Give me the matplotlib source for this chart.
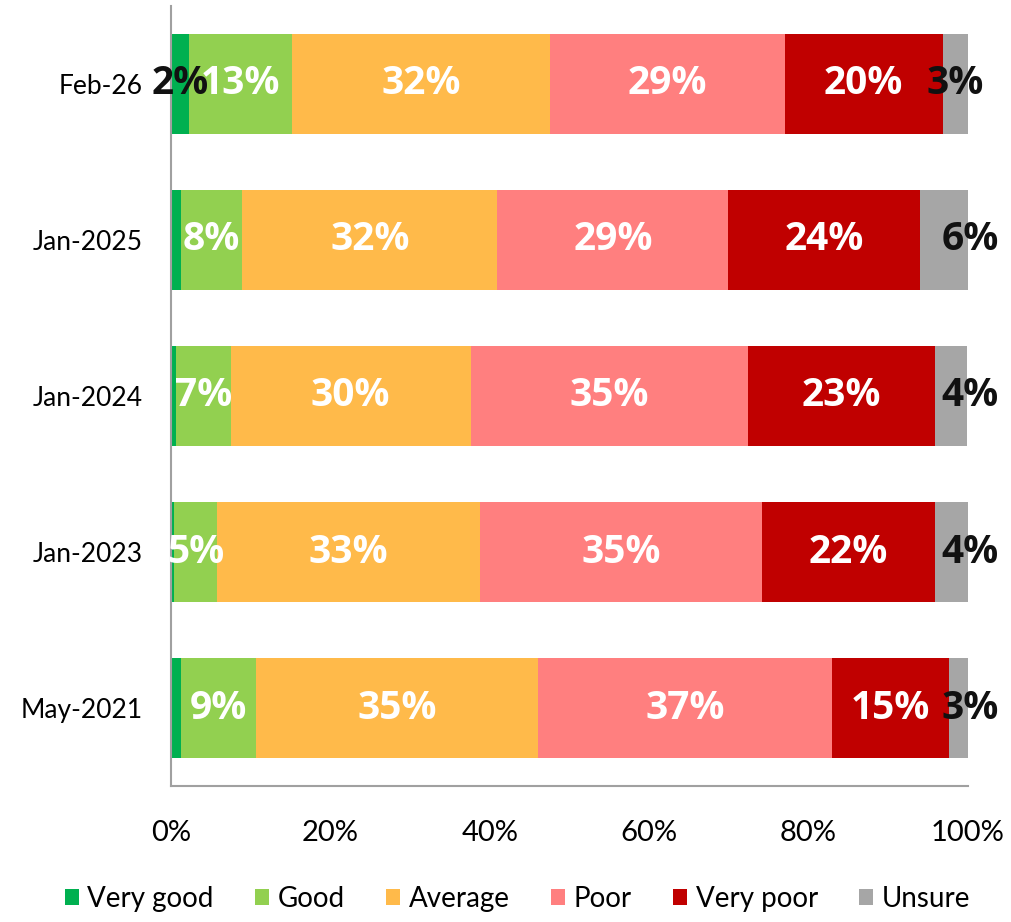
import numpy as np
import matplotlib
matplotlib.use("Agg")
import matplotlib.pyplot as plt
from matplotlib.patches import Patch

# survey waves, top to bottom
waves = ["Feb-26", "Jan-2025", "Jan-2024", "Jan-2023", "May-2021"]
categories = ["Very good", "Good", "Average", "Poor", "Very poor", "Unsure"]

# shares in % per wave
very_good = [2.3, 1.25, 0.6, 0.4, 1.25]
good = [12.9, 7.7, 6.9, 5.4, 9.4]
average = [32.4, 32.0, 30.1, 33.0, 35.4]
poor = [29.4, 29.0, 34.8, 35.4, 36.9]
very_poor = [19.8, 24.0, 23.4, 21.6, 14.6]
unsure = [3.3, 6.1, 4.1, 4.4, 2.6]

colors = ["#00B050", "#92D050", "#FFBA4A", "#FF7F7F", "#C00000", "#A6A6A6"]
label_colors = ["#111111", "white", "white", "white", "white", "#111111"]

series = [very_good, good, average, poor, very_poor, unsure]

plt.rcParams['font.family'] = ['Lato', 'DejaVu Sans']

fig = plt.figure(figsize=(10.11, 9.22), dpi=100)
ax = fig.add_axes([0.169, 0.147, 0.7885, 0.847])

y = np.arange(len(waves))
left = np.zeros(len(waves))
for ci, (vals, col, lcol) in enumerate(zip(series, colors, label_colors)):
    vals = np.array(vals)
    ax.barh(y, vals, left=left, height=0.64, color=col, edgecolor='none')
    for yi, (l, v) in enumerate(zip(left, vals)):
        if v < 1.5:
            continue
        cx = l + v / 2
        # unsure labels pushed out to the bar end, except the newest wave
        if ci == len(series) - 1 and yi > 0:
            cx = 100.3
        ax.text(cx, yi, f"{int(round(v))}%", ha='center', va='center',
                color=lcol, fontsize=28, fontweight='bold', family=['Open Sans', 'DejaVu Sans'])
    left = left + vals

ax.set_xlim(0, 100)
ax.set_ylim(4.5, -0.5)
ax.set_yticks(y)
ax.set_yticklabels(waves, fontsize=19)
ax.set_xticks(np.arange(0, 101, 20))
ax.set_xticklabels([f"{t}%" for t in range(0, 101, 20)], fontsize=21)
ax.tick_params(axis='both', length=0)
ax.tick_params(axis='x', pad=24)
ax.tick_params(axis='y', pad=20)
for s in ['top', 'right']:
    ax.spines[s].set_visible(False)
for s in ['left', 'bottom']:
    ax.spines[s].set_color('#A0A0A0')
    ax.spines[s].set_linewidth(1.5)

handles = [Patch(facecolor=c, edgecolor='none') for c in colors]
fig.legend(handles, categories, loc='center', bbox_to_anchor=(0.512, 0.025), ncol=6,
           frameon=False, handlelength=0.5, handleheight=0.5, handletextpad=0.3,
           columnspacing=1.5, prop={'size': 20})

fig.savefig("out.png", dpi=100)
